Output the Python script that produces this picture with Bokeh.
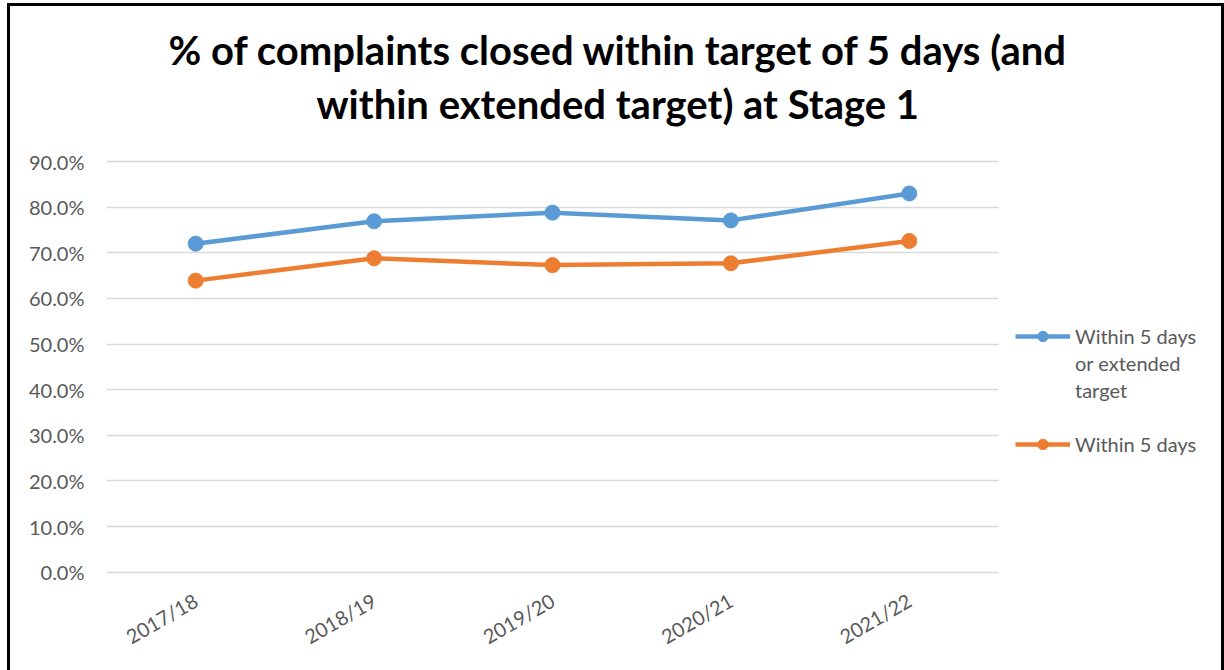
import math
from bokeh.plotting import figure
from bokeh.models import (ColumnDataSource, Legend, LegendItem, Title, Range1d,
                          NumeralTickFormatter, FixedTicker)
from bokeh.embed import file_html
from bokeh.resources import INLINE

years = ["2017/18", "2018/19", "2019/20", "2020/21", "2021/22"]
within_5_or_ext = [0.720, 0.769, 0.788, 0.771, 0.830]
within_5 = [0.639, 0.688, 0.673, 0.677, 0.726]
y_ticks = [0.0, 0.1, 0.2, 0.3, 0.4, 0.5, 0.6, 0.7, 0.8, 0.9]
title_lines = ["% of complaints closed within target of 5 days (and",
               "within extended target) at Stage 1"]
# legend labels, wrapped as in the reference
series_names = [["Within 5 days", "or extended", "target"], ["Within 5 days"]]

BLUE = "#5B9BD5"
ORANGE = "#ED7D31"
GREY_TXT = "#595959"
FONT = "Lato"

xpos = list(range(len(years)))
src = ColumnDataSource(dict(x=xpos, a=within_5_or_ext, b=within_5))

n = len(years)
p = figure(x_range=Range1d(-0.5, n + 0.75), y_range=Range1d(-0.005, 0.968),
           width=1211, height=664,
           output_backend="svg", toolbar_location=None,
           min_border_left=96, min_border_right=0, min_border_top=124,
           min_border_bottom=96,
           margin=(6, 0, 0, 10),
           styles={"outline": "3px solid black"})
p.outline_line_color = None
p.background_fill_color = "white"
p.border_fill_color = "white"

# titles (bottom line first so it sits closest to the frame)
t2 = Title(text=title_lines[1], align="left", offset=210, text_font=FONT,
           text_font_style="bold", text_font_size="40px", text_color="black",
           standoff=6)
t1 = Title(text=title_lines[0], align="left", offset=62, text_font=FONT,
           text_font_style="bold", text_font_size="40px", text_color="black",
           standoff=2)
p.add_layout(t2, "above")
p.add_layout(t1, "above")

# horizontal grid lines, limited to the category area
grid_ok = False
try:
    p.ygrid[0].cross_bounds = (-0.5, n - 0.5)
    grid_ok = True
except Exception:
    grid_ok = False
if grid_ok:
    p.ygrid.grid_line_color = "#D9D9D9"
    p.ygrid.grid_line_width = 1.5
else:
    p.ygrid.grid_line_color = None
    p.segment(x0=[-0.5] * len(y_ticks), x1=[n - 0.5] * len(y_ticks),
              y0=y_ticks, y1=y_ticks, line_color="#D9D9D9", line_width=1.5)
p.xgrid.grid_line_color = None

la = p.line("x", "a", source=src, line_color=BLUE, line_width=4.5)
ca = p.scatter("x", "a", source=src, size=15, fill_color=BLUE, line_color=BLUE)
lb = p.line("x", "b", source=src, line_color=ORANGE, line_width=4.5)
cb = p.scatter("x", "b", source=src, size=15, fill_color=ORANGE, line_color=ORANGE)

p.yaxis.ticker = FixedTicker(ticks=y_ticks)
p.yaxis.formatter = NumeralTickFormatter(format="0.0%")
p.xaxis.ticker = FixedTicker(ticks=xpos)
p.xaxis.major_label_overrides = {i: y for i, y in zip(xpos, years)}
for ax in (p.xaxis[0], p.yaxis[0]):
    ax.axis_line_color = None
    ax.major_tick_line_color = None
    ax.minor_tick_line_color = None
    ax.major_label_text_font = FONT
    ax.major_label_text_font_size = "20px"
    ax.major_label_text_color = GREY_TXT
p.yaxis.major_label_standoff = 16
p.xaxis.major_label_orientation = math.pi / 6
p.xaxis.major_label_standoff = 18

items = [LegendItem(label=series_names[0][0], renderers=[la, ca])]
items += [LegendItem(label=t, renderers=[]) for t in series_names[0][1:]]
items += [LegendItem(label=" ", renderers=[])]
items += [LegendItem(label=series_names[1][0], renderers=[lb, cb])]

legend = Legend(items=items, location=(909, 117), orientation="vertical",
                label_text_font=FONT, label_text_font_size="20px",
                label_text_color=GREY_TXT,
                glyph_width=55, glyph_height=26, label_height=26,
                label_standoff=5, spacing=1, padding=0, margin=0,
                border_line_color=None, background_fill_alpha=0)
p.add_layout(legend)

open("out.html", "w").write(file_html(p, INLINE))
